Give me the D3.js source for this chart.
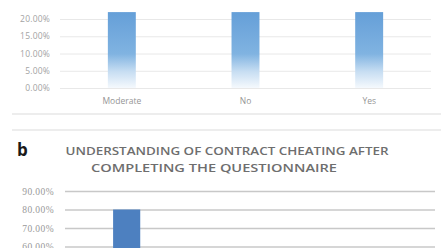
<!DOCTYPE html>
<html>
<head>
<meta charset="utf-8">
<script src="https://cdn.jsdelivr.net/npm/d3@7"></script>
<style>
  html, body { margin: 0; padding: 0; background: #fff; }
  svg { display: block; }
</style>
</head>
<body>
<svg id="chart" width="443" height="248"></svg>
<script>
// ---- Data ----
// Panel a (lower part visible): bars extend past the visible top
const catsA = ["Moderate", "No", "Yes"];
const valuesA = [0.22, 0.22, 0.22];
const ticksA = [0, 0.05, 0.10, 0.15, 0.20];

// Panel b (upper part visible)
const titleB = ["UNDERSTANDING OF CONTRACT CHEATING AFTER", "COMPLETING THE QUESTIONNAIRE"];
const catsB = ["Yes", "No", "Moderate"];
const valuesB = [0.80, 0.12, 0.08];
const ticksB = [0.60, 0.70, 0.80, 0.90];

const svg = d3.select("#chart");
const fmt = d3.format(".2%");

// ---- Panel a ----
const defs = svg.append("defs");
const grad = defs.append("linearGradient").attr("id", "gradA")
  .attr("x1", 0).attr("y1", 0).attr("x2", 0).attr("y2", 1);
grad.append("stop").attr("offset", "0%").attr("stop-color", "#659fd8");
grad.append("stop").attr("offset", "55%").attr("stop-color", "#80b3e1");
grad.append("stop").attr("offset", "78%").attr("stop-color", "#c6ddf2");
grad.append("stop").attr("offset", "100%").attr("stop-color", "#f5f9fd");

const xA = d3.scaleBand().domain(catsA).range([60, 431]).paddingInner(0.774).paddingOuter(0.387);
const yA = d3.scaleLinear().domain([0, 0.20]).range([88, 19]);

const gA = svg.append("g");
const axA = gA.append("g").attr("transform", "translate(60,0)")
  .call(d3.axisLeft(yA).tickValues(ticksA).tickFormat(fmt).tickSize(-371).tickPadding(10));
axA.select(".domain").remove();
axA.selectAll(".tick line").attr("stroke", "#e8e8e8").attr("stroke-width", 1);
axA.selectAll(".tick text").attr("fill", "#a3a3a3").attr("font-size", 8.5)
  .attr("font-family", "Open Sans, sans-serif").attr("letter-spacing", 0.2);

gA.selectAll("rect.bar").data(valuesA).enter().append("rect")
  .attr("class", "bar")
  .attr("x", (d, i) => xA(catsA[i]))
  .attr("width", xA.bandwidth())
  .attr("y", d => yA(d))
  .attr("height", d => yA(0) - yA(d))
  .attr("fill", "url(#gradA)");

const axAx = gA.append("g").attr("transform", `translate(0,${yA(0)})`)
  .call(d3.axisBottom(xA).tickSize(0).tickPadding(10));
axAx.select(".domain").remove();
axAx.selectAll(".tick text").attr("fill", "#959595").attr("font-size", 8.5)
  .attr("font-family", "Open Sans, sans-serif");

// separator lines between panels
[114, 130].forEach(y => {
  svg.append("line").attr("x1", 12).attr("x2", 441).attr("y1", y).attr("y2", y)
    .attr("stroke", "#ededed").attr("stroke-width", 2);
});

// ---- Panel b ----
svg.append("text").attr("x", 17).attr("y", 156).text("b")
  .attr("font-family", "Open Sans, sans-serif").attr("font-weight", "bold")
  .attr("font-size", 17).attr("fill", "#1a1a1a");

const titleX = [227, 214];
const titleW = [323, 246];
titleB.forEach((t, i) => {
  svg.append("text").attr("x", titleX[i]).attr("y", 155 + i * 16.5)
    .attr("text-anchor", "middle")
    .attr("font-family", "Open Sans, sans-serif").attr("font-weight", 600)
    .attr("font-size", 10.5).attr("fill", "#6e6e6e")
    .attr("textLength", titleW[i]).attr("lengthAdjust", "spacingAndGlyphs")
    .text(t);
});

const xB = d3.scaleBand().domain(catsB).range([65, 435]).paddingInner(0.78).paddingOuter(0.39);
const yB = d3.scaleLinear().domain([0, 0.90]).range([357.5, 191]);

const gB = svg.append("g");
const axB = gB.append("g").attr("transform", "translate(65,0)")
  .call(d3.axisLeft(yB).tickValues(ticksB).tickFormat(fmt).tickSize(-370).tickPadding(11));
axB.select(".domain").remove();
axB.selectAll(".tick line").attr("stroke", "#c8c8c8").attr("stroke-width", 1.5);
axB.selectAll(".tick text").attr("fill", "#999999").attr("font-size", 9.5)
  .attr("font-family", "'Liberation Serif', serif").attr("letter-spacing", 0.4);

gB.selectAll("rect.bar").data(valuesB).enter().append("rect")
  .attr("class", "bar")
  .attr("x", (d, i) => xB(catsB[i]))
  .attr("width", xB.bandwidth())
  .attr("y", d => yB(d))
  .attr("height", d => yB(0) - yB(d))
  .attr("fill", "#4d80c0");
</script>
</body>
</html>
